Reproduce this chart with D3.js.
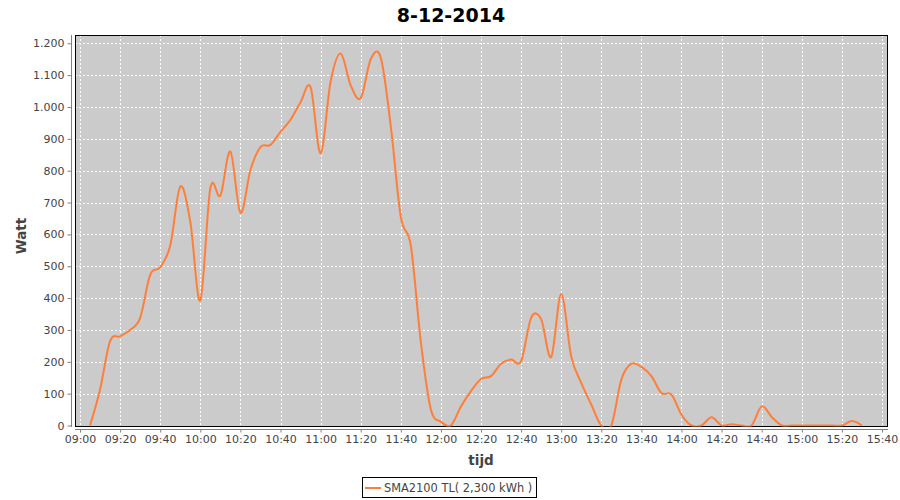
<!DOCTYPE html>
<html>
<head>
<meta charset="utf-8">
<script src="https://cdn.jsdelivr.net/npm/d3@7"></script>
<style>
  html, body { margin: 0; padding: 0; background: #fff; }
  svg { display: block; font-family: "DejaVu Sans", sans-serif; }
</style>
</head>
<body>
<svg id="chart" width="900" height="500"></svg>
<script>
// ---- data ----
const times = ["09:05","09:10","09:15","09:20","09:25","09:30","09:35","09:40","09:45","09:50","09:55",
  "10:00","10:05","10:10","10:15","10:20","10:25","10:30","10:35","10:40","10:45","10:50","10:55",
  "11:00","11:05","11:10","11:15","11:20","11:25","11:30","11:35","11:40","11:45","11:50","11:55",
  "12:00","12:05","12:10","12:15","12:20","12:25","12:30","12:35","12:40","12:45","12:50","12:55",
  "13:00","13:05","13:10","13:15","13:20","13:25","13:30","13:35","13:40","13:45","13:50","13:55",
  "14:00","14:05","14:10","14:15","14:20","14:25","14:30","14:35","14:40","14:45","14:50","14:55",
  "15:00","15:05","15:10","15:15","15:20","15:25","15:30"];
const watts = [0,113,265,280,300,338,473,497,565,750,640,
  392,745,722,860,668,802,874,881,922,960,1015,1062,
  855,1080,1168,1068,1028,1150,1155,940,655,565,262,50,
  12,0,60,108,146,155,194,207,202,338,334,215,
  413,217,134,66,0,0,144,194,184,155,102,97,
  34,0,0,26,0,4,0,0,60,27,0,0,
  0,0,0,0,0,14,0];
const yTicks = [0,100,200,300,400,500,600,700,800,900,1000,1100,1200];
const xTickLabels = ["09:00","09:20","09:40","10:00","10:20","10:40","11:00","11:20","11:40","12:00",
  "12:20","12:40","13:00","13:20","13:40","14:00","14:20","14:40","15:00","15:20","15:40"];
const title = "8-12-2014";
const yLabel = "Watt";
const xLabel = "tijd";
const seriesName = "SMA2100 TL( 2,300 kWh )";

// ---- helpers ----
const toMin = s => { const [h, m] = s.split(":").map(Number); return h * 60 + m; };
const data = times.map((t, i) => ({ t: toMin(t), v: watts[i] }));

const svg = d3.select("#chart");
const L = 75, R = 888, T = 35, B = 427;

const x = d3.scaleLinear().domain([537.5, 943]).range([L, R]);
const y = d3.scaleLinear().domain([-4.7, 1226]).range([B, T]);

// title
svg.append("text").attr("x", 451).attr("y", 21.5).attr("text-anchor", "middle")
  .attr("font-size", 19).attr("font-weight", "bold").attr("fill", "#000").text(title);

// plot background
svg.append("rect").attr("x", L).attr("y", T).attr("width", R - L).attr("height", B - T)
  .attr("fill", "#cbcbcb");

// clip
svg.append("clipPath").attr("id", "clip").append("rect")
  .attr("x", L).attr("y", T).attr("width", R - L).attr("height", B - T - 0.5);

// gridlines
const grid = svg.append("g");
xTickLabels.forEach(s => {
  const xx = Math.round(x(toMin(s))) + 0.5;
  grid.append("line").attr("x1", xx).attr("x2", xx).attr("y1", T).attr("y2", B)
    .attr("stroke", "#fff").attr("stroke-width", 1).attr("stroke-dasharray", "2,2");
});
yTicks.forEach(v => {
  const yy = Math.round(y(v)) + 0.5;
  grid.append("line").attr("x1", L).attr("x2", R).attr("y1", yy).attr("y2", yy)
    .attr("stroke", "#fff").attr("stroke-width", 1).attr("stroke-dasharray", "2,2");
});

// plot border
svg.append("rect").attr("x", L + 0.5).attr("y", T + 0.5).attr("width", R - L - 1).attr("height", B - T - 1)
  .attr("fill", "none").attr("stroke", "#000").attr("stroke-width", 1);

// series line
const line = d3.line().x(d => x(d.t)).y(d => y(d.v)).curve(d3.curveCatmullRom.alpha(0));
svg.append("path").datum(data).attr("clip-path", "url(#clip)")
  .attr("d", line).attr("fill", "none").attr("stroke", "#ff7f3a").attr("stroke-width", 2);

// y axis
const yAxis = d3.axisLeft(y).tickValues(yTicks).tickSize(4).tickPadding(3)
  .tickFormat(d => d3.format(",")(d).replace(/,/g, "."));
const ya = svg.append("g").attr("transform", "translate(71.5,0)").call(yAxis);
ya.select(".domain").attr("stroke", "#808080").attr("d", `M0,${T}V${B}`);
ya.selectAll(".tick line").attr("stroke", "#808080");
ya.selectAll(".tick text").attr("fill", "#444").attr("font-size", 11).attr("font-family", "DejaVu Sans");

// x axis
const xAxis = d3.axisBottom(x).tickValues(xTickLabels.map(toMin)).tickSize(3).tickPadding(3)
  .tickFormat((d, i) => xTickLabels[i]);
const xa = svg.append("g").attr("transform", "translate(0,429.5)").call(xAxis);
xa.select(".domain").attr("stroke", "#808080").attr("d", `M${L},0H${R}`);
xa.selectAll(".tick line").attr("stroke", "#808080");
xa.selectAll(".tick text").attr("fill", "#444").attr("font-size", 11).attr("font-family", "DejaVu Sans");

// axis labels
svg.append("text").attr("transform", "translate(26,236) rotate(-90)").attr("text-anchor", "middle")
  .attr("font-size", 13.5).attr("font-weight", "bold").attr("fill", "#444").text(yLabel);
svg.append("text").attr("x", 481).attr("y", 465).attr("text-anchor", "middle")
  .attr("font-size", 13.5).attr("font-weight", "bold").attr("fill", "#444").text(xLabel);

// legend
const lg = svg.append("g");
lg.append("rect").attr("x", 362.5).attr("y", 477.5).attr("width", 174).attr("height", 20)
  .attr("fill", "#fff").attr("stroke", "#000").attr("stroke-width", 1);
lg.append("line").attr("x1", 365).attr("x2", 381).attr("y1", 488).attr("y2", 488)
  .attr("stroke", "#ff7f3a").attr("stroke-width", 2);
lg.append("text").attr("x", 384).attr("y", 492).attr("font-size", 11.4).attr("fill", "#444").text(seriesName);
</script>
</body>
</html>
